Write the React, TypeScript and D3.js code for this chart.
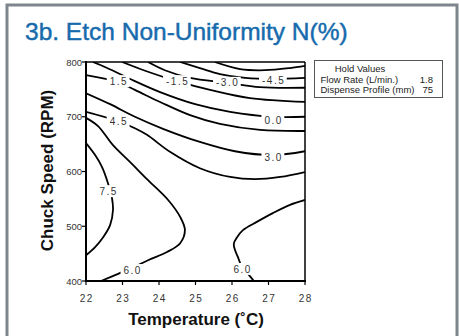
import React from 'react';
import * as d3 from 'd3';

// Axis ticks
const tempTicks = [22, 23, 24, 25, 26, 27, 28];
const speedTicks = [400, 500, 600, 700, 800];

// Hold values legend
const holdNames = ['Flow Rate (L/min.)', 'Dispense Profile (mm)'];
const holdValues = ['1.8', '75'];

// Contour lines: [temperature (°C), chuck speed (RPM)]
const cM60: [number, number][] = [[25.53, 800], [26.22, 787], [26.9, 785], [27.59, 789], [28.0, 793]];
const cM45: [number, number][] = [[24.58, 800], [25.12, 789], [25.67, 778], [26.36, 771], [27.12, 769], [28.0, 771]];
const cM30: [number, number][] = [[23.7, 800], [24.16, 785], [24.85, 771], [25.86, 762], [26.77, 754], [28.0, 753]];
const cM15: [number, number][] = [[22.99, 800], [23.62, 784], [24.49, 765], [25.4, 749], [26.49, 734], [28.0, 727]];
const c00: [number, number][] = [[22.19, 800], [22.58, 789], [23.21, 769], [24.03, 745], [24.99, 723], [25.95, 709], [27.12, 700], [28.0, 700]];
const c15: [number, number][] = [[22.0, 776], [22.88, 763], [23.34, 749], [24.03, 727], [24.85, 703], [25.67, 687], [26.77, 676], [28.0, 674]];
const c30: [number, number][] = [[22.0, 743], [22.66, 723], [23.34, 700], [24.11, 678], [25.12, 654], [26.08, 637], [27.12, 630], [28.0, 637]];
const c45: [number, number][] = [[22.0, 709], [22.88, 692], [23.34, 679], [23.67, 667], [24.3, 636], [25.12, 606], [25.95, 590], [26.63, 586], [27.32, 590], [28.0, 599]];
const c60a: [number, number][] = [[22.0, 698], [22.33, 683], [22.74, 648], [23.21, 617], [23.67, 586], [24.25, 548], [24.58, 517], [24.71, 493], [24.58, 469], [24.22, 453], [23.7, 438], [23.26, 424], [22.88, 413], [22.41, 400]];
const c75: [number, number][] = [[22.0, 652], [22.25, 630], [22.44, 608], [22.6, 579], [22.71, 552], [22.74, 530], [22.66, 502], [22.47, 480], [22.25, 462], [22.0, 447]];
const c60b: [number, number][] = [[28.0, 548], [27.59, 539], [27.12, 524], [26.68, 508], [26.3, 493], [26.14, 480], [26.05, 468], [26.08, 457], [26.16, 444], [26.27, 426], [26.49, 409], [26.6, 400]];

const contourLines = [cM60, cM45, cM30, cM15, c00, c15, c30, c45, c60a, c75, c60b];

// Contour labels: text, temperature, speed
const labelTexts = ['1.5', '-1.5', '-3.0', '-4.5', '0.0', '4.5', '3.0', '7.5', '6.0', '6.0'];
const labelTemps = [22.88, 24.49, 25.86, 27.12, 27.12, 22.88, 27.12, 22.6, 23.26, 26.27];
const labelSpeeds = [765, 765, 762, 767, 694, 692, 626, 564, 420, 422];

const W = 459;
const H = 336;

function textWidth(s: string, size: number, spacing: number) {
  let w = 0;
  for (const ch of s) {
    if (ch === '-') w += 0.333;
    else if (ch === '.') w += 0.278;
    else w += 0.556;
  }
  return w * size + spacing * (s.length - 1);
}

export default function App() {
  const x = d3.scaleLinear().domain([22, 28]).range([86, 305]);
  const y = d3.scaleLinear().domain([400, 800]).range([281, 62]);
  const line = d3
    .line<[number, number]>()
    .x((d) => x(d[0]))
    .y((d) => y(d[1]))
    .curve(d3.curveCatmullRom.alpha(0.5));

  const font = "Arial, 'Liberation Sans', Helvetica, sans-serif";

  return (
    <svg
      width={W}
      height={H}
      style={{ position: 'absolute', left: 0, top: 0, background: '#fff' }}
      fontFamily={font}
    >
      <defs>
        <clipPath id="plotclip">
          <rect x={x(22)} y={y(800)} width={x(28) - x(22)} height={y(400) - y(800)} />
        </clipPath>
      </defs>
      {/* outer frame */}
      <rect x={7} y={5} width={450} height={H + 20} fill="#fff" stroke="#7d868c" strokeWidth={3} />

      {/* title */}
      <text x={25} y={40} fontSize={24.5} fill="#176bad" stroke="#176bad" strokeWidth={0.45}>
        3b. Etch Non-Uniformity N(%)
      </text>

      {/* contour lines */}
      <g clipPath="url(#plotclip)">
        {contourLines.map((pts, i) => (
          <path key={i} d={line(pts) || ''} fill="none" stroke="#000" strokeWidth={1.8} />
        ))}
      </g>

      {/* contour labels */}
      {labelTexts.map((t, i) => {
        const cx = x(labelTemps[i]);
        const cy = y(labelSpeeds[i]);
        const w = textWidth(t, 10, 1.5);
        return (
          <g key={i}>
            <rect x={cx - w / 2 - 3} y={cy - 6} width={w + 6} height={12} fill="#fff" />
            <text
              x={cx + 0.75}
              y={cy + 3.6}
              fontSize={10}
              letterSpacing={1.5}
              textAnchor="middle"
              fill="#333"
            >
              {t}
            </text>
          </g>
        );
      })}

      {/* plot box */}
      <line x1={x(22)} x2={x(28)} y1={y(800)} y2={y(800)} stroke="#000" strokeWidth={1.5} />
      <line x1={x(28)} x2={x(28)} y1={y(800)} y2={y(400)} stroke="#000" strokeWidth={1.5} />
      <line x1={x(22)} x2={x(22)} y1={y(800) - 1} y2={y(400) + 1} stroke="#000" strokeWidth={2} />
      <line x1={x(22) - 1} x2={x(28) + 1} y1={y(400)} y2={y(400)} stroke="#000" strokeWidth={2} />

      {/* y ticks */}
      {speedTicks.map((s) => (
        <g key={s}>
          <line x1={x(22) - 4} x2={x(22)} y1={y(s)} y2={y(s)} stroke="#000" strokeWidth={1.2} />
          <text x={x(22) - 4} y={y(s) + 3.5} fontSize={9.5} textAnchor="end" fill="#333">
            {s}
          </text>
        </g>
      ))}

      {/* x ticks */}
      {tempTicks.map((t) => (
        <g key={t}>
          <line x1={x(t)} x2={x(t)} y1={y(400)} y2={y(400) + 4} stroke="#000" strokeWidth={1.2} />
          <text x={x(t) + 0.75} y={y(400) + 21} fontSize={10} letterSpacing={1.5} textAnchor="middle" fill="#333">
            {t}
          </text>
        </g>
      ))}

      {/* axis titles */}
      <text x={196} y={325} fontSize={17} fontWeight="bold" textAnchor="middle" fill="#111">
        Temperature (˚C)
      </text>
      <text
        transform={`translate(53, ${(y(800) + y(400)) / 2 - 1}) rotate(-90)`}
        fontSize={17}
        fontWeight="bold"
        textAnchor="middle"
        fill="#111"
      >
        Chuck Speed (RPM)
      </text>

      {/* hold values legend */}
      <rect x={314.5} y={60.5} width={128} height={37} fill="#fff" stroke="#555" strokeWidth={1} />
      <text x={360} y={72} fontSize={9.5} textAnchor="middle" fill="#222">
        Hold Values
      </text>
      {holdNames.map((n, i) => (
        <g key={n}>
          <text x={320.5} y={83 + i * 10.3} fontSize={9.5} fill="#222">
            {n}
          </text>
          <text x={433} y={83 + i * 10.3} fontSize={9.5} textAnchor="end" fill="#222">
            {holdValues[i]}
          </text>
        </g>
      ))}
    </svg>
  );
}
